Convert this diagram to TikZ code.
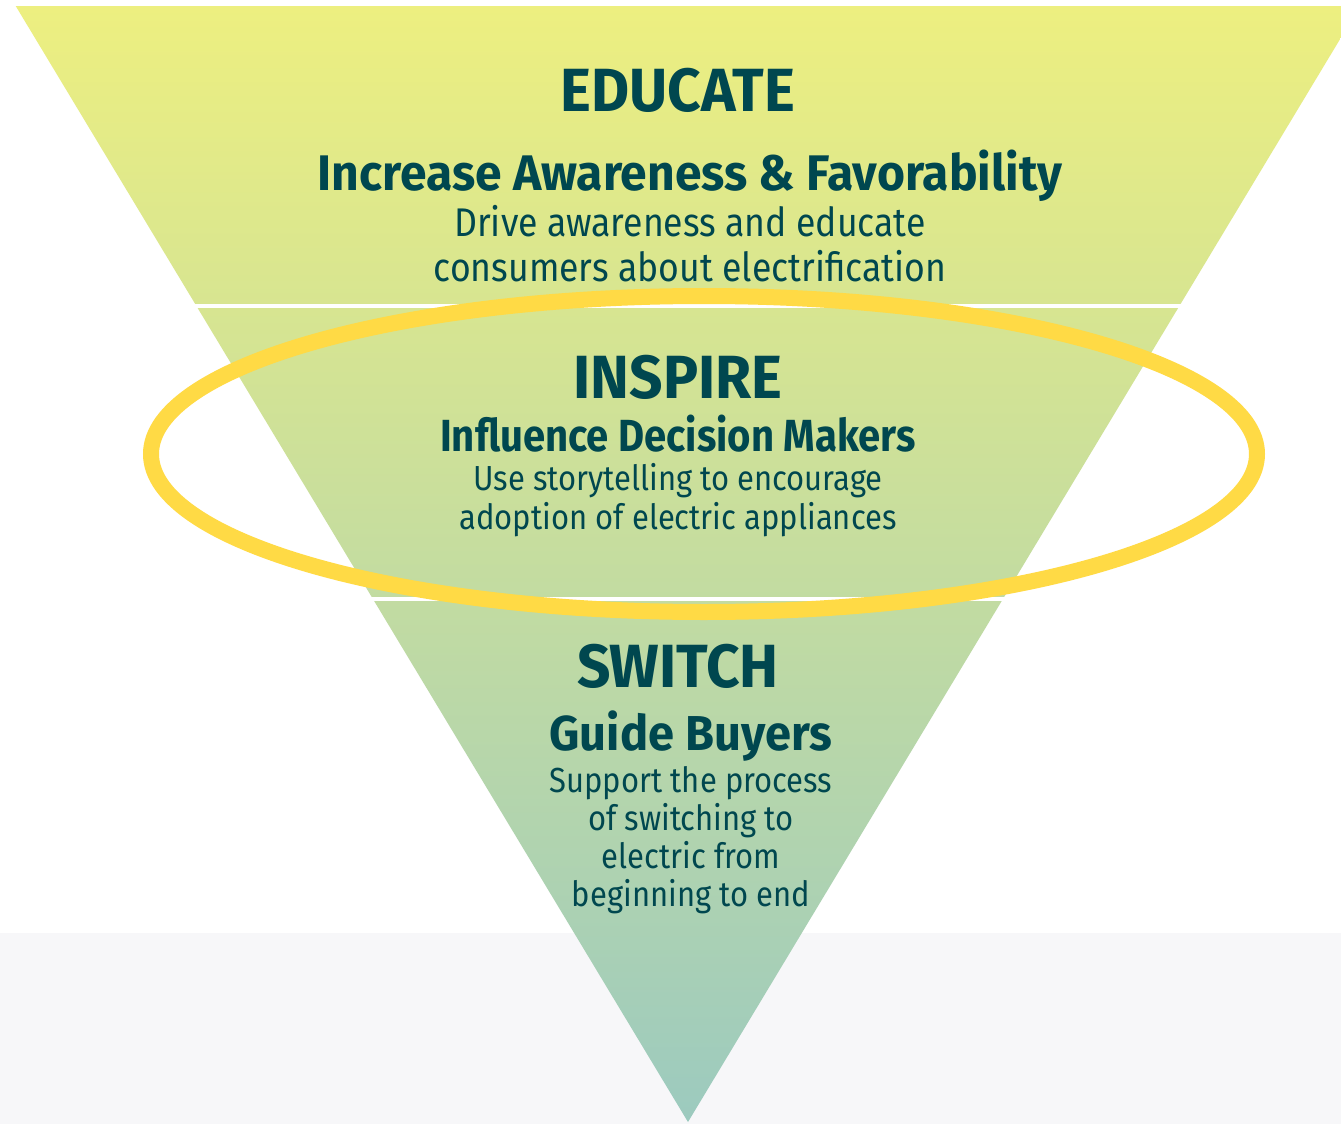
\documentclass[tikz,border=0pt]{standalone}
\usepackage{fontspec}
\setmainfont{Fira Sans}[FakeStretch=0.89]
\newfontfamily\headfont{Fira Sans}[FakeStretch=0.96]
\definecolor{ink}{HTML}{00474F}
\definecolor{ring}{HTML}{FFDA45}
\definecolor{gtop}{HTML}{EDEF80}
\definecolor{gmid}{HTML}{D2E1A0}
\definecolor{gbot}{HTML}{9CCABF}
\definecolor{floorgray}{HTML}{F7F7F9}
\begin{document}
\begin{tikzpicture}[x=0.5pt,y=-0.5pt,
  txt/.style={text=ink, inner sep=0pt, anchor=base},
  head/.style={txt, font=\headfont\fontsize{30.5pt}{30pt}\selectfont\bfseries},
  subA/.style={txt, font=\headfont\fontsize{25pt}{25pt}\selectfont\bfseries},
  subB/.style={txt, font=\fontsize{22.5pt}{22pt}\selectfont\bfseries},
  subC/.style={txt, font=\headfont\fontsize{24.5pt}{24pt}\selectfont\bfseries},
  bodyA/.style={txt, font=\fontsize{20pt}{20pt}\selectfont},
  bodyB/.style={txt, font=\fontsize{17.4pt}{18pt}\selectfont},
  gap/.style={fill=white, draw=none}]
\useasboundingbox (0,0) rectangle (1341,1124);
\fill[white] (0,0) rectangle (1341,933);
\fill[floorgray] (0,933) rectangle (1341,1124);
\begin{scope}
  \clip (0,0) rectangle (1341,1124);
  \shade[top color=gtop, middle color=gmid, bottom color=gbot]
    (15.7,6) -- (1360,6) -- (688,1122) -- cycle;
  \fill[gap] (0,304) rectangle (1341,307.7);
  \fill[gap] (0,597.3) rectangle (1341,601);
\end{scope}
\draw[ring, line width=8pt] (704,454) ellipse [x radius=276.5pt, y radius=79pt];
\node[head] (educate) at (678,112) {EDUCATE};
\node[subA] (increase) at (690,190) {Increase Awareness \& Favorability};
\node[bodyA] (drive1) at (690,236) {Drive awareness and educate};
\node[bodyA] (drive2) at (690,281) {consumers about electrification};
\node[head] (inspire) at (678,398) {INSPIRE};
\node[subB] (influence) at (678,451) {Influence Decision Makers};
\node[bodyB] (use1) at (678,490) {Use storytelling to encourage};
\node[bodyB] (use2) at (678,529) {adoption of electric appliances};
\node[head] (switch) at (678,687) {SWITCH};
\node[subC] (guide) at (691,750) {Guide Buyers};
\node[bodyB] (sup1) at (691,792) {Support the process};
\node[bodyB] (sup2) at (691,830) {of switching to};
\node[bodyB] (sup3) at (691,868) {electric from};
\node[bodyB] (sup4) at (691,906) {beginning to end};
\end{tikzpicture}
\end{document}
